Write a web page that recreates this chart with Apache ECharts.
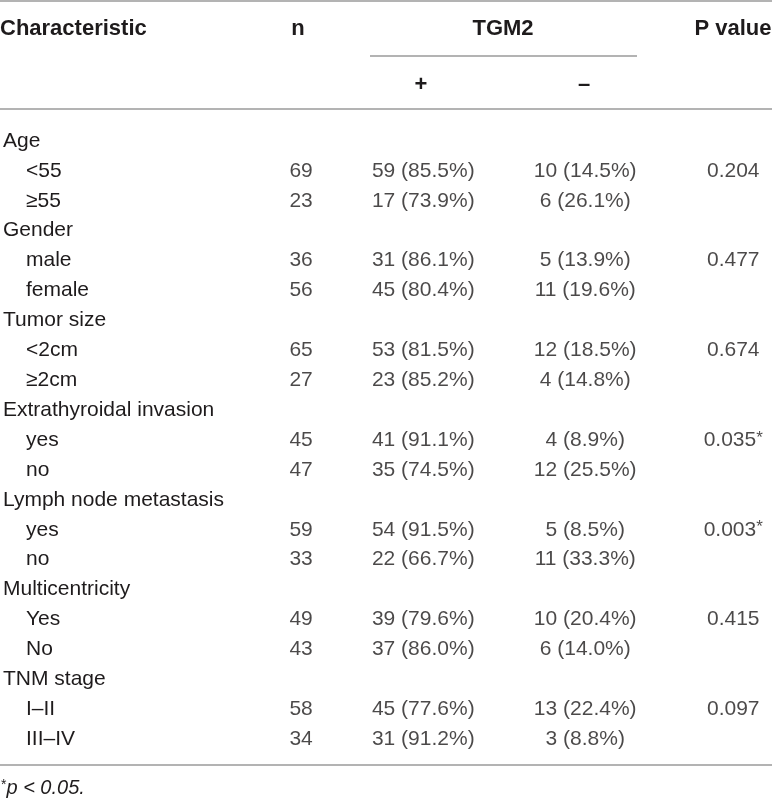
<!DOCTYPE html>
<html lang="en">
<head>
    <meta charset="utf-8" />
    <title>TGM2 table</title>
    <script type="text/javascript" src="https://cdn.jsdelivr.net/npm/echarts@6/dist/echarts.min.js"></script>
    <style>
        html, body { margin: 0; padding: 0; background: #fff; }
        #table { width: 772px; height: 799px; }
    </style>
</head>
<body>
    <div id="table"></div>
    <script type="text/javascript">
        // table values
        var groups = ['Age', 'Gender', 'Tumor size', 'Extrathyroidal invasion', 'Lymph node metastasis', 'Multicentricity', 'TNM stage'];
        var levels = [['<55', '≥55'], ['male', 'female'], ['<2cm', '≥2cm'], ['yes', 'no'], ['yes', 'no'], ['Yes', 'No'], ['I–II', 'III–IV']];
        var nValues = [69, 23, 36, 56, 65, 27, 45, 47, 59, 33, 49, 43, 58, 34];
        var posCounts = [59, 17, 31, 45, 53, 23, 41, 35, 54, 22, 39, 37, 45, 31];
        var posPct = [85.5, 73.9, 86.1, 80.4, 81.5, 85.2, 91.1, 74.5, 91.5, 66.7, 79.6, 86.0, 77.6, 91.2];
        var negCounts = [10, 6, 5, 11, 12, 4, 4, 12, 5, 11, 10, 6, 13, 3];
        var negPct = [14.5, 26.1, 13.9, 19.6, 18.5, 14.8, 8.9, 25.5, 8.5, 33.3, 20.4, 14.0, 22.4, 8.8];
        var pValues = [0.204, 0.477, 0.674, 0.035, 0.003, 0.415, 0.097];
        var headers = ['Characteristic', 'n', 'TGM2', 'P value'];
        var subHeaders = ['+', '–'];

        // layout
        var font = '"Liberation Sans", Arial, Helvetica, sans-serif';
        var ink = '#1e1b1c';
        var rule = '#9a9a9a';
        var colX = { n: 298, pos: 421, neg: 584, p: 733 };

        var rowLabels = [];
        var rowIsGroup = [];
        var subRows = [];
        var firstRows = [];
        for (var g = 0; g < groups.length; g++) {
            rowLabels.push(groups[g]);
            rowIsGroup.push(true);
            for (var l = 0; l < levels[g].length; l++) {
                if (l === 0) firstRows.push(rowLabels.length);
                subRows.push(rowLabels.length);
                rowLabels.push(levels[g][l]);
                rowIsGroup.push(false);
            }
        }

        var chart = echarts.init(document.getElementById('table'));

        function cellLabel(formatter) {
            return {
                show: true,
                position: 'inside',
                color: ink,
                fontFamily: font,
                fontSize: 21,
                formatter: formatter,
                rich: {
                    sup: { color: ink, fontFamily: font, fontSize: 17, verticalAlign: 'top', padding: [0, 0, 4, 0] }
                }
            };
        }

        function cellSeries(data, formatter) {
            return {
                type: 'scatter',
                silent: true,
                symbolSize: 1,
                itemStyle: { color: 'transparent' },
                label: cellLabel(formatter),
                data: data
            };
        }

        function headText(text, x, y, align, size) {
            return {
                type: 'text',
                x: x,
                y: y,
                silent: true,
                style: {
                    text: text,
                    fill: ink,
                    font: 'bold ' + size + 'px ' + font,
                    align: align,
                    verticalAlign: 'middle'
                }
            };
        }

        function hLine(x1, x2, y) {
            return {
                type: 'line',
                silent: true,
                shape: { x1: x1, y1: y, x2: x2, y2: y },
                style: { stroke: rule, lineWidth: 1.5 }
            };
        }

        var option = {
            animation: false,
            grid: { left: 0, right: 0, top: 126, height: 628, containLabel: false },
            xAxis: { type: 'value', min: 0, max: 772, show: false },
            yAxis: {
                type: 'category',
                inverse: true,
                data: rowLabels,
                axisLine: { show: false },
                axisTick: { show: false },
                splitLine: { show: false },
                axisLabel: {
                    inside: true,
                    margin: -2,
                    interval: 0,
                    formatter: function (v, i) {
                        return rowIsGroup[i] ? '{g|' + v + '}' : '{s|' + v + '}';
                    },
                    rich: {
                        g: { color: ink, fontFamily: font, fontSize: 21 },
                        s: { color: ink, fontFamily: font, fontSize: 21, padding: [0, 0, 0, 23] }
                    }
                }
            },
            graphic: [
                hLine(0, 772, 1),
                hLine(370, 637, 56),
                hLine(0, 772, 109),
                hLine(0, 772, 765),
                headText(headers[0], 0, 29, 'left', 22),
                headText(headers[1], colX.n, 29, 'center', 22),
                headText(headers[2], 503, 29, 'center', 22),
                headText(headers[3], colX.p, 29, 'center', 22),
                headText(subHeaders[0], colX.pos, 85, 'center', 22),
                headText(subHeaders[1], colX.neg, 85, 'center', 22),
                {
                    type: 'text',
                    x: 1,
                    y: 788,
                    silent: true,
                    style: {
                        text: '{a|*}{b|p < 0.05.}',
                        verticalAlign: 'middle',
                        rich: {
                            a: { fill: ink, font: '14px ' + font, verticalAlign: 'top', padding: [0, 0, 6, 0] },
                            b: { fill: ink, font: 'italic 20px ' + font }
                        }
                    }
                }
            ],
            series: [
                cellSeries(subRows.map(function (r, k) { return [colX.n, r, nValues[k]]; }),
                    function (p) { return String(p.value[2]); }),
                cellSeries(subRows.map(function (r, k) { return [colX.pos, r, posCounts[k], posPct[k]]; }),
                    function (p) { return p.value[2] + ' (' + p.value[3].toFixed(1) + '%)'; }),
                cellSeries(subRows.map(function (r, k) { return [colX.neg, r, negCounts[k], negPct[k]]; }),
                    function (p) { return p.value[2] + ' (' + p.value[3].toFixed(1) + '%)'; }),
                cellSeries(firstRows.map(function (r, g) { return [colX.p, r, pValues[g]]; }),
                    function (p) {
                        var v = p.value[2];
                        return v.toFixed(3) + (v < 0.05 ? '{sup|*}' : '');
                    })
            ]
        };

        chart.setOption(option);
    </script>
</body>
</html>
